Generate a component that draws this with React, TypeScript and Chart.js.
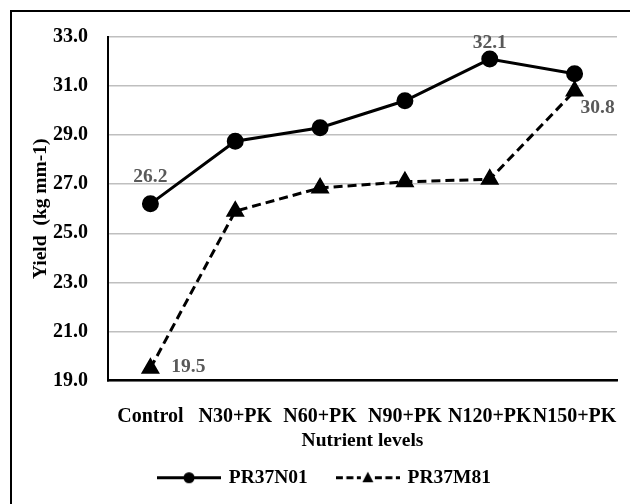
import { useEffect, useRef } from 'react';
import { Chart, registerables } from 'chart.js';

Chart.register(...registerables);

const CATEGORIES = ['Control', 'N30+PK', 'N60+PK', 'N90+PK', 'N120+PK', 'N150+PK'];
const SERIES_NAMES = ['PR37N01', 'PR37M81'];
const PR37N01 = [26.2, 28.75, 29.3, 30.4, 32.1, 31.5];
const PR37M81 = [19.5, 25.9, 26.85, 27.1, 27.2, 30.8];
const Y_TICK_MIN = 19;
const Y_TICK_MAX = 33;
const Y_TICK_STEP = 2;

// which points carry a value label, and how the label is nudged off the point
const LABELED_POINTS = [
  { ds: 0, idx: 0, dx: 0, dy: -27 },
  { ds: 0, idx: 4, dx: 0, dy: -16 },
  { ds: 1, idx: 5, dx: 23, dy: 17 },
  { ds: 1, idx: 0, dx: 38, dy: -1 },
];

const FONT = '"Liberation Serif", "Times New Roman", serif';

function legendSample(dashed: boolean) {
  const c = document.createElement('canvas');
  c.width = 64;
  c.height = 19;
  const g = c.getContext('2d')!;
  g.strokeStyle = '#000';
  g.fillStyle = '#000';
  g.lineWidth = 3;
  const cy = 9.5;
  if (dashed) {
    g.setLineDash([7, 3.5]);
    g.beginPath();
    g.moveTo(0, cy);
    g.lineTo(25, cy);
    g.moveTo(39, cy);
    g.lineTo(64, cy);
    g.stroke();
    g.beginPath();
    g.moveTo(32, cy - 6);
    g.lineTo(37.5, cy + 4.5);
    g.lineTo(26.5, cy + 4.5);
    g.closePath();
    g.fill();
  } else {
    g.beginPath();
    g.moveTo(0, cy);
    g.lineTo(64, cy);
    g.stroke();
    g.beginPath();
    g.arc(32, cy, 5.5, 0, Math.PI * 2);
    g.fill();
  }
  return c;
}

const valueLabels = {
  id: 'valueLabels',
  afterDatasetsDraw(chart: Chart) {
    const ctx = chart.ctx;
    ctx.save();
    ctx.font = `bold 19.5px ${FONT}`;
    ctx.fillStyle = '#595959';
    ctx.textAlign = 'center';
    ctx.textBaseline = 'middle';
    LABELED_POINTS.forEach(p => {
      const el = chart.getDatasetMeta(p.ds).data[p.idx];
      const v = chart.data.datasets[p.ds].data[p.idx] as number;
      ctx.fillText(v.toFixed(1), el.x + p.dx, el.y + p.dy);
    });
    ctx.restore();
  },
};

export default function App() {
  const canvasRef = useRef<HTMLCanvasElement>(null);
  const chartRef = useRef<Chart | null>(null);

  useEffect(() => {
    if (!canvasRef.current) return;
    chartRef.current?.destroy();
    const ctx = canvasRef.current.getContext('2d');
    if (!ctx) return;

    const samples = [legendSample(false), legendSample(true)];

    chartRef.current = new Chart(ctx, {
      type: 'line',
      data: {
        labels: CATEGORIES,
        datasets: [
          {
            label: SERIES_NAMES[0],
            data: PR37N01,
            borderColor: '#000',
            backgroundColor: '#000',
            borderWidth: 3,
            pointStyle: 'circle',
            pointRadius: 7,
            pointBackgroundColor: '#000',
            pointBorderColor: '#000',
            tension: 0,
          },
          {
            label: SERIES_NAMES[1],
            data: PR37M81,
            borderColor: '#000',
            backgroundColor: '#000',
            borderWidth: 3,
            borderDash: [9, 5],
            pointStyle: 'triangle',
            pointRadius: 8,
            pointBackgroundColor: '#000',
            pointBorderColor: '#000',
            tension: 0,
          },
        ],
      },
      options: {
        responsive: false,
        animation: false,
        layout: { padding: { left: 33, right: 13, top: 37, bottom: 6.5 } },
        plugins: {
          tooltip: { enabled: false },
          legend: {
            position: 'bottom',
            labels: {
              usePointStyle: true,
              pointStyleWidth: 60,
              boxHeight: 19,
              padding: 30,
              color: '#000',
              font: { family: FONT, size: 19.5, weight: 'bold' },
              generateLabels: (chart: Chart) =>
                chart.data.datasets.map((d, i) => ({
                  text: d.label as string,
                  pointStyle: samples[i],
                  fillStyle: '#000',
                  strokeStyle: '#000',
                  lineWidth: 0,
                  hidden: false,
                  datasetIndex: i,
                  fontColor: '#000',
                })),
            },
          },
        },
        scales: {
          x: {
            offset: true,
            grid: { display: false, drawTicks: false },
            border: { display: true, color: '#000', width: 2.5 },
            ticks: {
              color: '#000',
              padding: 24,
              maxRotation: 0,
              autoSkip: false,
              font: { family: FONT, size: 20, weight: 'bold' },
            },
            title: {
              display: true,
              text: 'Nutrient levels',
              color: '#000',
              font: { family: FONT, size: 19.5, weight: 'bold' },
              padding: { top: 0, bottom: -15 },
            },
            afterFit: (scale: any) => {
              scale.height = 57.5;
              scale.paddingLeft = 0;
              scale.paddingRight = 0;
            },
          },
          y: {
            min: Y_TICK_MIN,
            max: Y_TICK_MAX,
            grid: { color: '#bfbfbf', lineWidth: 1.5, drawTicks: false },
            border: { display: true, color: '#000', width: 2 },
            ticks: {
              stepSize: Y_TICK_STEP,
              color: '#000',
              padding: 20,
              font: { family: FONT, size: 20, weight: 'bold' },
              callback: (v) => Number(v).toFixed(1),
            },
            title: {
              display: true,
              text: 'Yield  (kg mm-1)',
              color: '#000',
              font: { family: FONT, size: 19.5, weight: 'bold' },
              padding: { top: -4, bottom: 0 },
            },
            afterFit: (scale: any) => { scale.width = 75; },
          },
        },
      },
      plugins: [valueLabels],
    });

    return () => {
      chartRef.current?.destroy();
      chartRef.current = null;
    };
  }, []);

  return (
    <div style={{ position: 'fixed', left: 0, top: 0, width: 630, height: 504, overflow: 'hidden', background: '#fff' }}>
      <canvas ref={canvasRef} width={630} height={504} style={{ position: 'absolute', left: 0, top: 0 }} />
      <div
        style={{
          position: 'absolute',
          left: 10,
          top: 10,
          width: 660,
          height: 540,
          border: '2px solid #000',
          pointerEvents: 'none',
        }}
      />
    </div>
  );
}
